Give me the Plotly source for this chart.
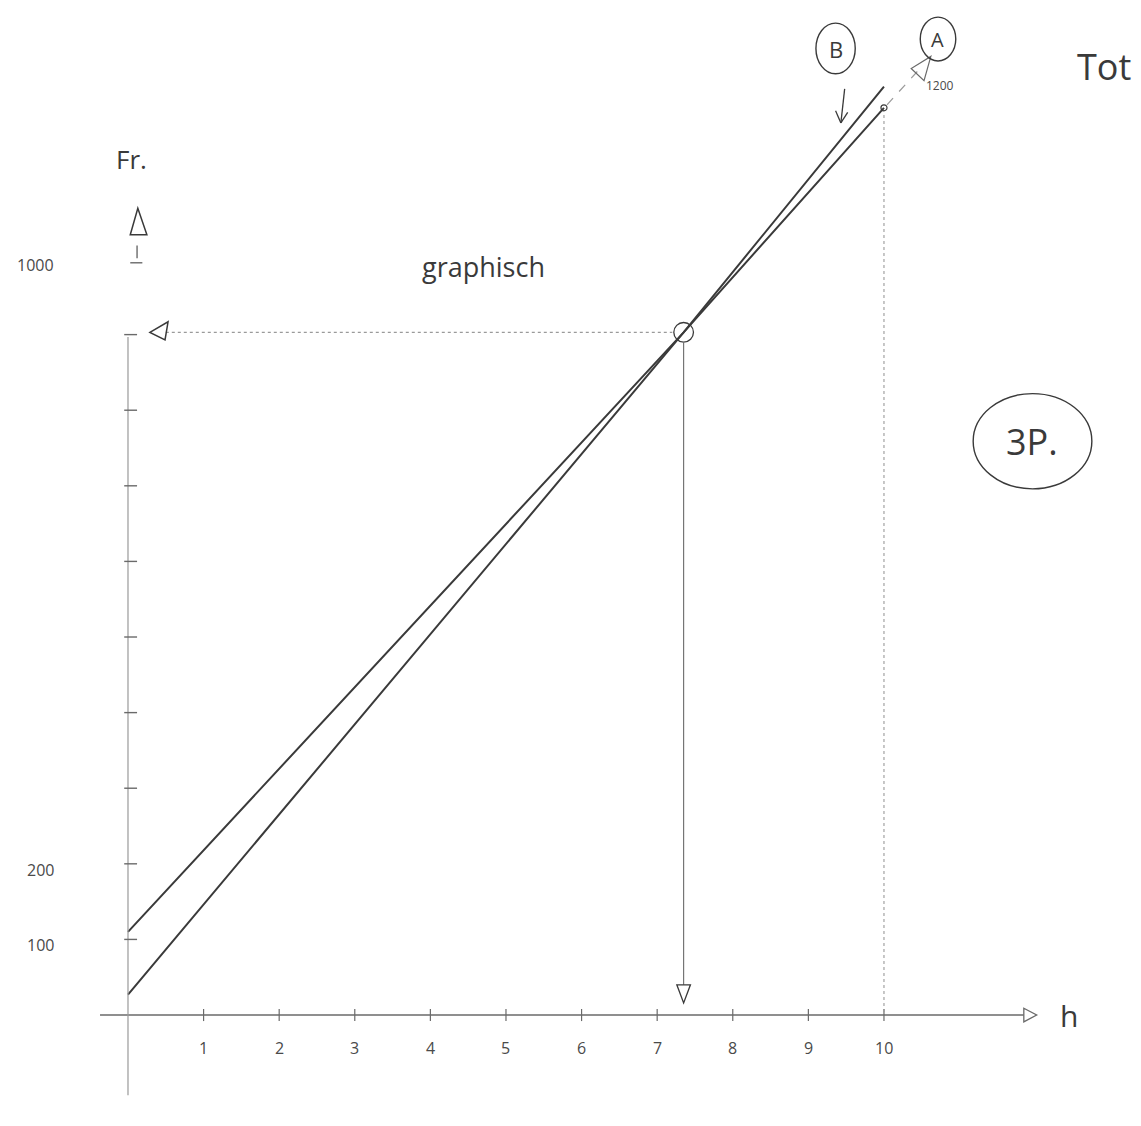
import plotly.graph_objects as go

# Cost lines of the two offers (hours -> Fr.)
hours_a = [0, 7.35, 10]
cost_a = [27, 903, 1200]
hours_b = [0, 7.35, 10]
cost_b = [110, 903, 1228]

# Break-even point found graphically
break_even_h = 7.35
break_even_cost = 903

# Axis ticks and labels
x_ticks = [1, 2, 3, 4, 5, 6, 7, 8, 9, 10]
x_tick_labels = ["1", "2", "3", "4", "5", "6", "7", "8", "9", "10"]
y_ticks = [100, 200, 300, 400, 500, 600, 700, 800, 900]
y_label_values = [100, 200, 1000]
y_label_texts = ["100", "200", "1000"]

INK = "#3a3a3a"
PENCIL = "#6a6a6a"
LIGHT = "#9a9a9a"
FONT = "Open Sans"

fig = go.Figure()

# offer lines
fig.add_trace(go.Scatter(x=hours_a, y=cost_a, mode="lines",
                         line=dict(color=INK, width=2), hoverinfo="skip", name="A"))
fig.add_trace(go.Scatter(x=hours_b, y=cost_b, mode="lines",
                         line=dict(color=INK, width=2), hoverinfo="skip", name="B"))

shapes = []


def seg(x0, y0, x1, y1, color=PENCIL, width=1.2, dash="solid"):
    shapes.append(dict(type="line", xref="x", yref="y", x0=x0, y0=y0, x1=x1, y1=y1,
                       line=dict(color=color, width=width, dash=dash)))


def tri(pts, color=INK, width=1.5):
    path = "M {} {} L {} {} L {} {} Z".format(*[v for p in pts for v in p])
    shapes.append(dict(type="path", xref="x", yref="y", path=path,
                       line=dict(color=color, width=width), fillcolor="rgba(0,0,0,0)"))


# x axis with open arrow head
seg(-0.37, 0, 11.85, 0, color=PENCIL, width=1.3)
tri([(11.85, 9), (12.02, 0), (11.85, -9)], color=PENCIL, width=1.3)
for t in x_ticks:
    seg(t, -8, t, 8, color=PENCIL, width=1.2)

# y axis with ticks, the 1000 mark and open arrow head
seg(0, -106, 0, 897, color=LIGHT, width=1.2)
for t in y_ticks:
    seg(-0.05, t, 0.12, t, color=PENCIL, width=1.4)
seg(0.12, 1001, 0.12, 1018, color=PENCIL, width=1.4)
seg(0.03, 995, 0.19, 995, color=PENCIL, width=1.4)
tri([(0.03, 1032), (0.25, 1032), (0.13, 1067)], color=INK, width=1.5)

# graphical reading of the break-even point
seg(0.5, break_even_cost, break_even_h - 0.15, break_even_cost, color=LIGHT, width=1.1, dash="dot")
tri([(0.29, break_even_cost), (0.53, break_even_cost + 14), (0.49, break_even_cost - 10)],
    color=INK, width=1.5)
seg(break_even_h, break_even_cost - 14, break_even_h, 40, color=PENCIL, width=1.1)
tri([(break_even_h - 0.09, 40), (break_even_h + 0.09, 40), (break_even_h, 16)],
    color=INK, width=1.3)
shapes.append(dict(type="circle", xref="x", yref="y",
                   x0=break_even_h - 0.13, x1=break_even_h + 0.13,
                   y0=break_even_cost - 13, y1=break_even_cost + 13,
                   line=dict(color=INK, width=1.3)))

# vertical reading at 10 h
seg(hours_a[-1], 4, hours_a[-1], cost_a[-1] - 6, color=LIGHT, width=1.1, dash="dot")
shapes.append(dict(type="circle", xref="x", yref="y",
                   x0=hours_a[-1] - 0.04, x1=hours_a[-1] + 0.04,
                   y0=cost_a[-1] - 4, y1=cost_a[-1] + 4,
                   line=dict(color=INK, width=1.2)))

# pointer from label A to the end of line A
seg(hours_a[-1] + 0.04, cost_a[-1] + 4, 10.45, 1249, color=LIGHT, width=1.2, dash="dash")
tri([(10.36, 1252), (10.53, 1236), (10.62, 1268)], color=PENCIL, width=1.2)

# pointer from label B to line B
seg(9.48, 1225, 9.43, 1180, color=INK, width=1.3)
seg(9.36, 1196, 9.43, 1180, color=INK, width=1.3)
seg(9.52, 1194, 9.43, 1180, color=INK, width=1.3)

# circled labels
shapes.append(dict(type="circle", xref="x", yref="y", x0=9.1, x1=9.62,
                   y0=1245, y1=1312, line=dict(color=INK, width=1.4)))
shapes.append(dict(type="circle", xref="x", yref="y", x0=10.48, x1=10.95,
                   y0=1262, y1=1320, line=dict(color=INK, width=1.4)))
shapes.append(dict(type="circle", xref="x", yref="y", x0=11.18, x1=12.75,
                   y0=696, y1=822, line=dict(color=INK, width=1.4)))

annotations = []


def label(x, y, text, size, color="#4a4a4a", xanchor="center"):
    annotations.append(dict(x=x, y=y, xref="x", yref="y", text=text, showarrow=False,
                            xanchor=xanchor, yanchor="middle",
                            font=dict(family=FONT, size=size, color=color)))


for t, s in zip(x_ticks, x_tick_labels):
    label(t, -44, s, 16)
for v, s in zip(y_label_values, y_label_texts):
    label(-0.95, v - 8, s, 16, xanchor="right")

label(0.05, 1132, "Fr.", 26, color=INK)
label(12.45, 0, "h", 30, color=INK)
label(4.7, 990, "graphisch", 27, color=INK)
label(9.36, 1278, "B", 22, color=INK)
label(10.71, 1291, "A", 20, color=INK)
label(10.74, 1230, "1200", 12)
label(11.96, 759, "3P.", 36, color=INK)
label(12.53, 1255, "Tot", 36, color=INK, xanchor="left")

fig.update_layout(
    width=1141, height=1126,
    margin=dict(l=0, r=0, t=0, b=0),
    paper_bgcolor="white", plot_bgcolor="white",
    showlegend=False,
    xaxis=dict(range=[-1.693, 13.40], visible=False, fixedrange=True),
    yaxis=dict(range=[-146.8, 1342.6], visible=False, fixedrange=True),
    shapes=shapes,
    annotations=annotations,
)

fig.write_html("out.html")
